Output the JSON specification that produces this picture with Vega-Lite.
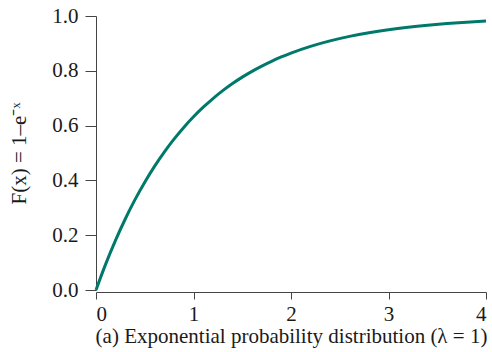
{
  "$schema": "https://vega.github.io/schema/vega-lite/v6.json",
  "width": 390,
  "height": 274,
  "autosize": "none",
  "padding": {"left": 96, "top": 16, "right": 6, "bottom": 62},
  "background": "white",
  "config": {"view": {"stroke": null}, "font": "Liberation Serif"},
  "data": {"values": [
    {"x": 0, "F": 0}, {"x": 0.1, "F": 0.0952}, {"x": 0.2, "F": 0.1813}, {"x": 0.3, "F": 0.2592},
    {"x": 0.4, "F": 0.3297}, {"x": 0.5, "F": 0.3935}, {"x": 0.6, "F": 0.4512}, {"x": 0.7, "F": 0.5034},
    {"x": 0.8, "F": 0.5507}, {"x": 0.9, "F": 0.5934}, {"x": 1.0, "F": 0.6321}, {"x": 1.1, "F": 0.6671},
    {"x": 1.2, "F": 0.6988}, {"x": 1.3, "F": 0.7275}, {"x": 1.4, "F": 0.7534}, {"x": 1.5, "F": 0.7769},
    {"x": 1.6, "F": 0.7981}, {"x": 1.7, "F": 0.8173}, {"x": 1.8, "F": 0.8347}, {"x": 1.9, "F": 0.8504},
    {"x": 2.0, "F": 0.8647}, {"x": 2.2, "F": 0.8892}, {"x": 2.4, "F": 0.9093}, {"x": 2.6, "F": 0.9257},
    {"x": 2.8, "F": 0.9392}, {"x": 3.0, "F": 0.9502}, {"x": 3.2, "F": 0.9592}, {"x": 3.4, "F": 0.9666},
    {"x": 3.6, "F": 0.9727}, {"x": 3.8, "F": 0.9776}, {"x": 4.0, "F": 0.9817}
  ]},
  "mark": {"type": "line", "color": "#00796b", "strokeWidth": 3, "interpolate": "monotone"},
  "encoding": {
    "x": {
      "field": "x", "type": "quantitative",
      "scale": {"domain": [0, 4], "nice": false},
      "axis": {
        "values": [0, 1, 2, 3, 4], "grid": false, "format": "d",
        "domainColor": "#444", "tickColor": "#444", "tickSize": 7, "offset": 2,
        "labelFont": "Liberation Serif", "labelFontSize": 21, "labelColor": "#1a1a1a", "labelPadding": 4,
        "title": "(a) Exponential probability distribution (λ = 1)",
        "titleFont": "Liberation Serif", "titleFontSize": 21, "titleFontWeight": "normal", "titleColor": "#1a1a1a",
        "titlePadding": 1
      }
    },
    "y": {
      "field": "F", "type": "quantitative",
      "scale": {"domain": [0, 1], "nice": false},
      "axis": {
        "values": [0, 0.2, 0.4, 0.6, 0.8, 1.0], "grid": false, "format": ".1f",
        "domainColor": "#444", "tickColor": "#444", "tickSize": 11,
        "labelFont": "Liberation Serif", "labelFontSize": 21, "labelColor": "#1a1a1a", "labelPadding": 7,
        "title": "F(x) = 1–e⁻ˣ",
        "titleFont": "Liberation Serif", "titleFontSize": 21, "titleFontWeight": "normal", "titleColor": "#1a1a1a",
        "titlePadding": 22
      }
    }
  }
}
